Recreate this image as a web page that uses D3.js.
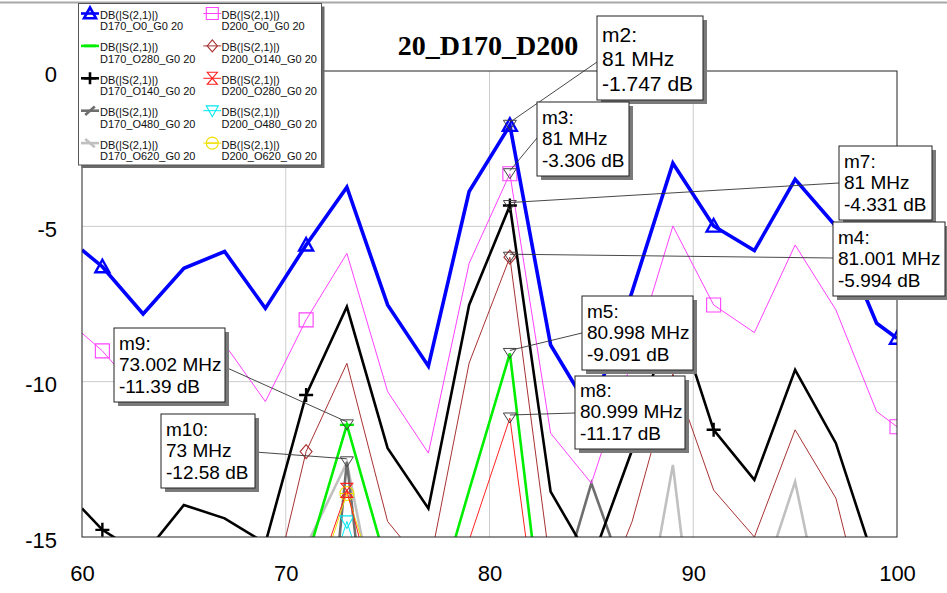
<!DOCTYPE html>
<html><head><meta charset="utf-8">
<script src="https://cdn.jsdelivr.net/npm/d3@7"></script>
<style>body{margin:0;background:#fff;} svg{display:block;}</style>
</head><body>
<svg id="chart" width="947" height="593"></svg>
<script>
// ---------- DATA ----------
const freqs = [60,61,63,65,67,69,71,73,75,77,79,81,83,85,87,89,91,93,95,97,99,100];
const D170_O0   = [-5.76,-6.30,-7.82,-6.35,-5.81,-7.64,-5.60,-3.74,-7.53,-9.50,-3.88,-1.747,-8.82,-11.0,-7.1,-2.97,-4.99,-5.78,-3.49,-5.0,-8.12,-8.60];
const D200_O0   = [-8.44,-9.01,-10.5,-9.1,-8.8,-10.64,-8.01,-5.87,-10.32,-12.30,-6.19,-3.306,-11.66,-13.27,-9.3,-4.99,-7.53,-8.42,-5.60,-7.69,-10.96,-11.45];
const D170_O140 = [-14.08,-14.77,-15.6,-13.97,-14.40,-15.2,-10.43,-7.59,-12.14,-14.08,-7.53,-4.331,-13.54,-15.8,-12.2,-7.5,-11.55,-13.16,-9.62,-11.98,-16.0,-17.0];
const D200_O140 = [-19,-19,-19,-19,-18.5,-17.75,-12.25,-9.41,-14.5,-16.1,-9.4,-5.994,-16.0,-17.8,-14.5,-9.75,-13.49,-15.0,-11.55,-13.75,-19,-20];
const D170_O280 = [-22,-21,-20,-19,-18,-17,-15.8,-11.39,-16.0,-18.0,-13.5,-9.091,-20,-21,-21,-21,-21,-21,-21,-21,-21,-21];
const D200_O280 = [-22,-22,-22,-22,-21,-20,-17.3,-13.5,-18.5,-18,-15.1,-11.17,-21,-22,-22,-22,-22,-22,-22,-22,-22,-22];
const D170_O480 = [-26,-26,-26,-26,-26,-26,-26,-12.58,-24,-25,-25,-25,-17.7,-13.27,-16.95,-25,-25,-25,-25,-25,-25,-25];
const D200_O480 = [-24,-24,-24,-24,-22,-20,-18.6,-14.5,-18.6,-20,-22,-22,-22,-22,-22,-22,-22,-22,-22,-22,-22,-22];
const D170_O620 = [-25,-25,-25,-25,-25,-25,-15.3,-12.6,-19.2,-25,-25,-25,-25,-25,-20.0,-12.68,-23.5,-17.2,-13.22,-19.5,-25,-25];
const D200_O620 = [-24,-24,-24,-24,-22,-20,-17.6,-13.6,-17.6,-20,-22,-22,-22,-22,-22,-22,-22,-22,-22,-22,-22,-22];

const xTicks = [60,70,80,90,100];
const yTicks = [0,-5,-10,-15];
const xGrid = [70,80,90];
const yGrid = [-5,-10];
const title = "20_D170_D200";

const markerNames  = ["m2","m3","m7","m4","m5","m8","m9","m10"];
const markerFreqs  = [81,81,81,81.001,80.998,80.999,73.002,73];
const markerFreqTx = ["81 MHz","81 MHz","81 MHz","81.001 MHz","80.998 MHz","80.999 MHz","73.002 MHz","73 MHz"];
const markerValues = [-1.747,-3.306,-4.331,-5.994,-9.091,-11.17,-11.39,-12.58];
const markerValTx  = ["-1.747 dB","-3.306 dB","-4.331 dB","-5.994 dB","-9.091 dB","-11.17 dB","-11.39 dB","-12.58 dB"];

// ---------- SERIES STYLE TABLE ----------
const series = [
  {key:"D170_O620_G0 20", v:D170_O620, color:"#c0c0c0", w:2.6, sym:"bslash", marks:[]},
  {key:"D170_O480_G0 20", v:D170_O480, color:"#6e6e6e", w:2.6, sym:"slash", marks:[]},
  {key:"D200_O620_G0 20", v:D200_O620, color:"#f0e000", w:1, sym:"circle", marks:[73]},
  {key:"D200_O480_G0 20", v:D200_O480, color:"#00e8f0", w:1, sym:"triDown", marks:[73]},
  {key:"D200_O280_G0 20", v:D200_O280, color:"#ff2020", w:1, sym:"hourglass", marks:[73]},
  {key:"D200_O140_G0 20", v:D200_O140, color:"#a83232", w:1, sym:"diamond", marks:[71,81]},
  {key:"D200_O0_G0 20",   v:D200_O0,   color:"#ff40ff", w:1, sym:"square", marks:[61,71,81,91,100]},
  {key:"D170_O280_G0 20", v:D170_O280, color:"#00ee00", w:2.6, sym:"dash", marks:[73]},
  {key:"D170_O140_G0 20", v:D170_O140, color:"#000000", w:2.6, sym:"plus", marks:[61,71,81,91]},
  {key:"D170_O0_G0 20",   v:D170_O0,   color:"#0000ff", w:3.6, sym:"triUp", marks:[61,71,81,91,100]}
];
const legendCol1 = ["D170_O0_G0 20","D170_O280_G0 20","D170_O140_G0 20","D170_O480_G0 20","D170_O620_G0 20"];
const legendCol2 = ["D200_O0_G0 20","D200_O140_G0 20","D200_O280_G0 20","D200_O480_G0 20","D200_O620_G0 20"];

// ---------- LAYOUT ----------
const W = 947, H = 593;
const plot = {l:82, r:897, t:71, b:537};
const svg = d3.select("#chart");
const x = d3.scaleLinear().domain([60,100]).range([plot.l, plot.r]);
const y = d3.scaleLinear().domain([-15,0]).range([plot.b, plot.t]);
const FONT = "'Liberation Sans', Arial, sans-serif";
const plainFmt = d => String(d);

// window top line
svg.append("line").attr("x1",0).attr("x2",W).attr("y1",2.5).attr("y2",2.5)
  .attr("stroke","#a8a8a8").attr("stroke-width",2);

// grid
svg.append("g").selectAll("line").data(xGrid).join("line")
  .attr("x1",d=>x(d)).attr("x2",d=>x(d)).attr("y1",plot.t).attr("y2",plot.b)
  .attr("stroke","#cccccc").attr("stroke-width",1);
svg.append("g").selectAll("line").data(yGrid).join("line")
  .attr("x1",plot.l).attr("x2",plot.r).attr("y1",d=>y(d)).attr("y2",d=>y(d))
  .attr("stroke","#cccccc").attr("stroke-width",1);

// axes labels
const yAxis = d3.axisLeft(y).tickValues(yTicks).tickSize(0).tickPadding(25).tickFormat(plainFmt);
const gy = svg.append("g").attr("transform",`translate(${plot.l},0)`).call(yAxis);
gy.select(".domain").remove();
gy.selectAll("text").attr("font-family",FONT).attr("font-size",22).attr("fill","#000").attr("dy","0.46em");
const xAxis = d3.axisBottom(x).tickValues(xTicks).tickSize(0).tickPadding(28).tickFormat(plainFmt);
const gx = svg.append("g").attr("transform",`translate(0,${plot.b})`).call(xAxis);
gx.select(".domain").remove();
gx.selectAll("text").attr("font-family",FONT).attr("font-size",22).attr("fill","#000");

// clip
svg.append("defs").append("clipPath").attr("id","pc").append("rect")
  .attr("x",plot.l).attr("y",plot.t).attr("width",plot.r-plot.l).attr("height",plot.b-plot.t);

function symPath(t, s){
  s = s||7;
  switch(t){
    case "triUp": return `M0,${-s} L${s},${s*0.8} L${-s},${s*0.8} Z`;
    case "triDown": return `M${-s},${-s*0.8} L${s},${-s*0.8} L0,${s} Z`;
    case "square": return `M${-s},${-s} H${s} V${s} H${-s} Z`;
    case "diamond": return `M0,${-s} L${s*0.85},0 L0,${s} L${-s*0.85},0 Z`;
    case "plus": return `M${-s},0 H${s} M0,${-s} V${s}`;
    case "dash": return `M${-s},0 H${s}`;
    case "slash": return `M${-s*0.8},${s*0.7} L${s*0.8},${-s*0.7}`;
    case "bslash": return `M${-s*0.8},${-s*0.7} L${s*0.8},${s*0.7}`;
    case "hourglass": return `M${-s*0.85},${-s} H${s*0.85} L${-s*0.85},${s} H${s*0.85} Z`;
    case "circle": return `M${-s},0 A${s},${s} 0 1,0 ${s},0 A${s},${s} 0 1,0 ${-s},0 M${-s},0 H${s}`;
  }
  return "";
}

const line = d3.line().x(d=>x(d[0])).y(d=>y(d[1]));
const gLines = svg.append("g").attr("clip-path","url(#pc)");
series.forEach(s=>{
  const pts = freqs.map((f,i)=>[f,s.v[i]]);
  gLines.append("path").attr("d",line(pts)).attr("fill","none")
    .attr("stroke",s.color).attr("stroke-width",s.w).attr("stroke-linejoin","miter");
  s.marks.forEach(f=>{
    const i = freqs.indexOf(f);
    const val = s.v[i];
    if (val < -15 || val > 0) return;
    gLines.append("path").attr("d",symPath(s.sym,7))
      .attr("transform",`translate(${x(f)},${y(val)})`)
      .attr("fill","none").attr("stroke",s.color)
      .attr("stroke-width", s.w>2 ? 2.4 : 1.1);
  });
});

// frame
svg.append("rect").attr("x",plot.l).attr("y",plot.t).attr("width",plot.r-plot.l).attr("height",plot.b-plot.t)
  .attr("fill","none").attr("stroke","#222").attr("stroke-width",1);

// title
svg.append("text").attr("x",488).attr("y",55).attr("text-anchor","middle")
  .attr("font-family","'Liberation Serif','Times New Roman',serif").attr("font-weight","bold")
  .attr("font-size",28).attr("fill","#000").text(title);

// ---------- LEGEND ----------
const lg = svg.append("g");
const lgBox = {x:78.5, y:3.5, w:243, h:161.5};
lg.append("rect").attr("x",lgBox.x+3).attr("y",lgBox.y+3).attr("width",lgBox.w).attr("height",lgBox.h).attr("fill","#6a6a6a");
lg.append("rect").attr("x",lgBox.x).attr("y",lgBox.y).attr("width",lgBox.w).attr("height",lgBox.h)
  .attr("fill","#fff").attr("stroke","#555").attr("stroke-width",1);
const cols = [{keys:legendCol1, sx:90, tx:100},{keys:legendCol2, sx:212.3, tx:221.5}];
cols.forEach(c=>{
  c.keys.forEach((k,i)=>{
    const s = series.find(q=>q.key===k);
    const cy = 13.5 + i*32.4;
    lg.append("line").attr("x1",c.sx-9).attr("x2",c.sx+9).attr("y1",cy).attr("y2",cy)
      .attr("stroke",s.color).attr("stroke-width",Math.min(s.w,2.6));
    lg.append("path").attr("d",symPath(s.sym,6)).attr("transform",`translate(${c.sx},${cy})`)
      .attr("fill","none").attr("stroke",s.color).attr("stroke-width",s.w>2?2.6:1.1);
    lg.append("text").attr("x",c.tx).attr("y",cy+5.5).attr("font-family",FONT).attr("font-size",11)
      .attr("fill","#111").text("DB(|S(2,1)|)");
    lg.append("text").attr("x",c.tx).attr("y",cy+16.8).attr("font-family",FONT).attr("font-size",11)
      .attr("fill","#111").text(k);
  });
});

// ---------- MARKER ANNOTATIONS ----------
const boxLayout = [
  {x:597, y:16,  w:106, h:84, fs:21, lh:24.5, ax:597, ay:62},
  {x:537, y:102, w:92,  h:74, fs:19, lh:21.2, ax:537, ay:138},
  {x:839, y:146, w:93,  h:74, fs:19, lh:21.2, ax:839, ay:183},
  {x:833, y:222, w:112, h:74, fs:19, lh:21.2, ax:833, ay:258},
  {x:582, y:296, w:111, h:74, fs:19, lh:21.2, ax:582, ay:333},
  {x:575, y:376, w:110, h:73, fs:19, lh:21.2, ax:575, ay:413},
  {x:114, y:328, w:111, h:74, fs:19, lh:21.2, ax:225, ay:367},
  {x:161, y:414, w:94,  h:74, fs:19, lh:21.2, ax:255, ay:452}
];
const gm = svg.append("g");
markerNames.forEach((m,i)=>{
  const b = boxLayout[i];
  const px = x(markerFreqs[i]), py = y(markerValues[i]);
  gm.append("line").attr("x1",b.ax).attr("y1",b.ay).attr("x2",px).attr("y2",py-3)
    .attr("stroke","#333").attr("stroke-width",0.9);
  gm.append("path").attr("d",`M${-6.5},${-5} L6.5,${-5} L0,5 Z`).attr("transform",`translate(${px},${py})`)
    .attr("fill","none").attr("stroke","#404040").attr("stroke-width",1);
});
markerNames.forEach((m,i)=>{
  const b = boxLayout[i];
  gm.append("rect").attr("x",b.x+4).attr("y",b.y+4).attr("width",b.w).attr("height",b.h).attr("fill","#7a7a7a");
  gm.append("rect").attr("x",b.x).attr("y",b.y).attr("width",b.w).attr("height",b.h)
    .attr("fill","#fff").attr("stroke","#222").attr("stroke-width",1);
  const lines = [m+":", markerFreqTx[i], markerValTx[i]];
  const base0 = b.y + b.h - 9.5 - 2*b.lh;
  lines.forEach((t,j)=>{
    gm.append("text").attr("x",b.x+5).attr("y",base0 + j*b.lh)
      .attr("font-family",FONT).attr("font-size",b.fs).attr("fill","#000").text(t);
  });
});
</script>
</body></html>
